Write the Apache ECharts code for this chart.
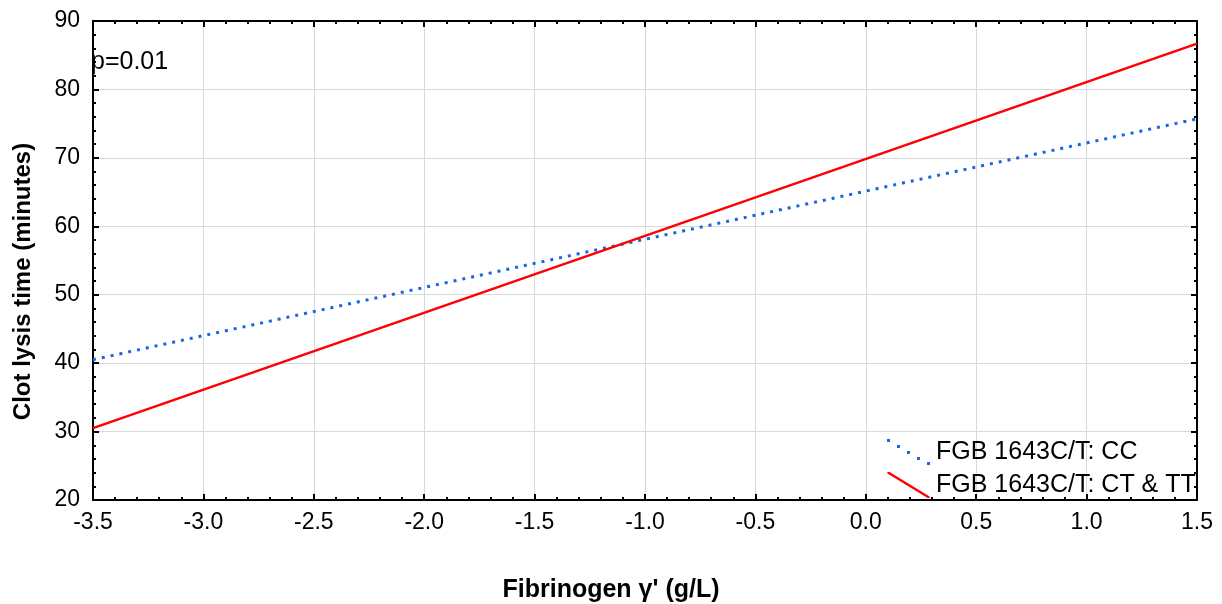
<!DOCTYPE html>
<html>
<head>
<meta charset="utf-8">
<script src="https://cdn.jsdelivr.net/npm/echarts@6/dist/echarts.min.js"></script>
<style>
  html, body { margin: 0; padding: 0; background: #fff; }
  #chart { width: 1222px; height: 604px; }
</style>
</head>
<body>
<div id="chart"></div>
<script>
// fibrinogen gamma' (g/L) at the ends of each fitted line
const xValues = [-3.5, 1.5]
const ccValues = [40.5, 75.7]
const ctttValues = [30.5, 86.7]
const seriesNames = ['FGB 1643C/T: CC', 'FGB 1643C/T: CT & TT']

const chart = echarts.init(document.getElementById('chart'))

const fontFamily = 'Liberation Sans, Arial, sans-serif'
// diagonal legend keys, like the original plot
const dottedIcon = 'path://M0,0h3v3h-3z M10,6h3v3h-3z M20,12h3v3h-3z M30,18h3v3h-3z M40,23h3v3h-3z'
const solidIcon = 'path://M0,0L2.2,0L43,25L43,26.5L41,26.5L0,1.5z'

const baseAxis = {
  axisLine: { show: true, onZero: false, lineStyle: { color: '#000', width: 2 } },
  axisTick: { show: true, inside: true, length: 6, lineStyle: { color: '#000', width: 2 } },
  minorTick: { show: true, splitNumber: 5, length: 3, lineStyle: { color: '#000', width: 2 } },
  axisLabel: { color: '#000', fontSize: 23, fontFamily, margin: 11 }
}

const option = {
  animation: false,
  backgroundColor: '#fff',
  title: {
    text: 'p=0.01',
    left: 91,
    top: 50,
    padding: 0,
    textStyle: { fontSize: 25, fontWeight: 'normal', color: '#000', fontFamily }
  },
  legend: {
    orient: 'vertical',
    left: 887,
    top: 439,
    padding: 0,
    itemWidth: 43,
    itemHeight: 26,
    itemGap: 7,
    textStyle: { fontSize: 25, color: '#000', fontFamily, padding: [0, 0, 0, 1] },
    data: [
      { name: seriesNames[0], icon: dottedIcon, itemStyle: { color: '#1a66e0' } },
      { name: seriesNames[1], icon: solidIcon, itemStyle: { color: '#ff0000' } }
    ]
  },
  grid: { left: 93, right: 25, top: 21, bottom: 104, containLabel: false, outerBoundsMode: 'none' },
  xAxis: [
    {
      ...baseAxis,
      type: 'value',
      min: -3.5,
      max: 1.5,
      interval: 0.5,
      name: "Fibrinogen \u03b3' (g/L)",
      nameLocation: 'middle',
      nameGap: 78,
      nameTextStyle: { fontSize: 25, fontWeight: 'bold', color: '#000', fontFamily, padding: [0, 68, 0, 0] },
      axisLabel: { ...baseAxis.axisLabel, formatter: v => v.toFixed(1) },
      splitLine: { show: true, lineStyle: { color: '#d9d9d9', width: 1 } }
    },
    {
      ...baseAxis,
      type: 'value',
      position: 'top',
      min: -3.5,
      max: 1.5,
      interval: 0.5,
      axisLabel: { show: false },
      splitLine: { show: false }
    }
  ],
  yAxis: [
    {
      ...baseAxis,
      type: 'value',
      min: 20,
      max: 90,
      interval: 10,
      name: 'Clot lysis time (minutes)',
      nameLocation: 'middle',
      nameGap: 58,
      nameTextStyle: { fontSize: 24, fontWeight: 'bold', color: '#000', fontFamily, padding: [0, 42, 0, 0] },
      axisLabel: { ...baseAxis.axisLabel, margin: 13 },
      splitLine: { show: true, lineStyle: { color: '#d9d9d9', width: 1 } }
    },
    {
      ...baseAxis,
      type: 'value',
      position: 'right',
      min: 20,
      max: 90,
      interval: 10,
      axisLabel: { show: false },
      splitLine: { show: false }
    }
  ],
  series: [
    {
      name: seriesNames[0],
      type: 'line',
      showSymbol: false,
      color: '#1a66e0',
      lineStyle: { color: '#1a66e0', width: 3, type: [3, 6] },
      data: xValues.map((x, i) => [x, ccValues[i]])
    },
    {
      name: seriesNames[1],
      type: 'line',
      showSymbol: false,
      color: '#ff0000',
      lineStyle: { color: '#ff0000', width: 2.5 },
      data: xValues.map((x, i) => [x, ctttValues[i]])
    }
  ]
}

chart.setOption(option)
</script>
</body>
</html>
